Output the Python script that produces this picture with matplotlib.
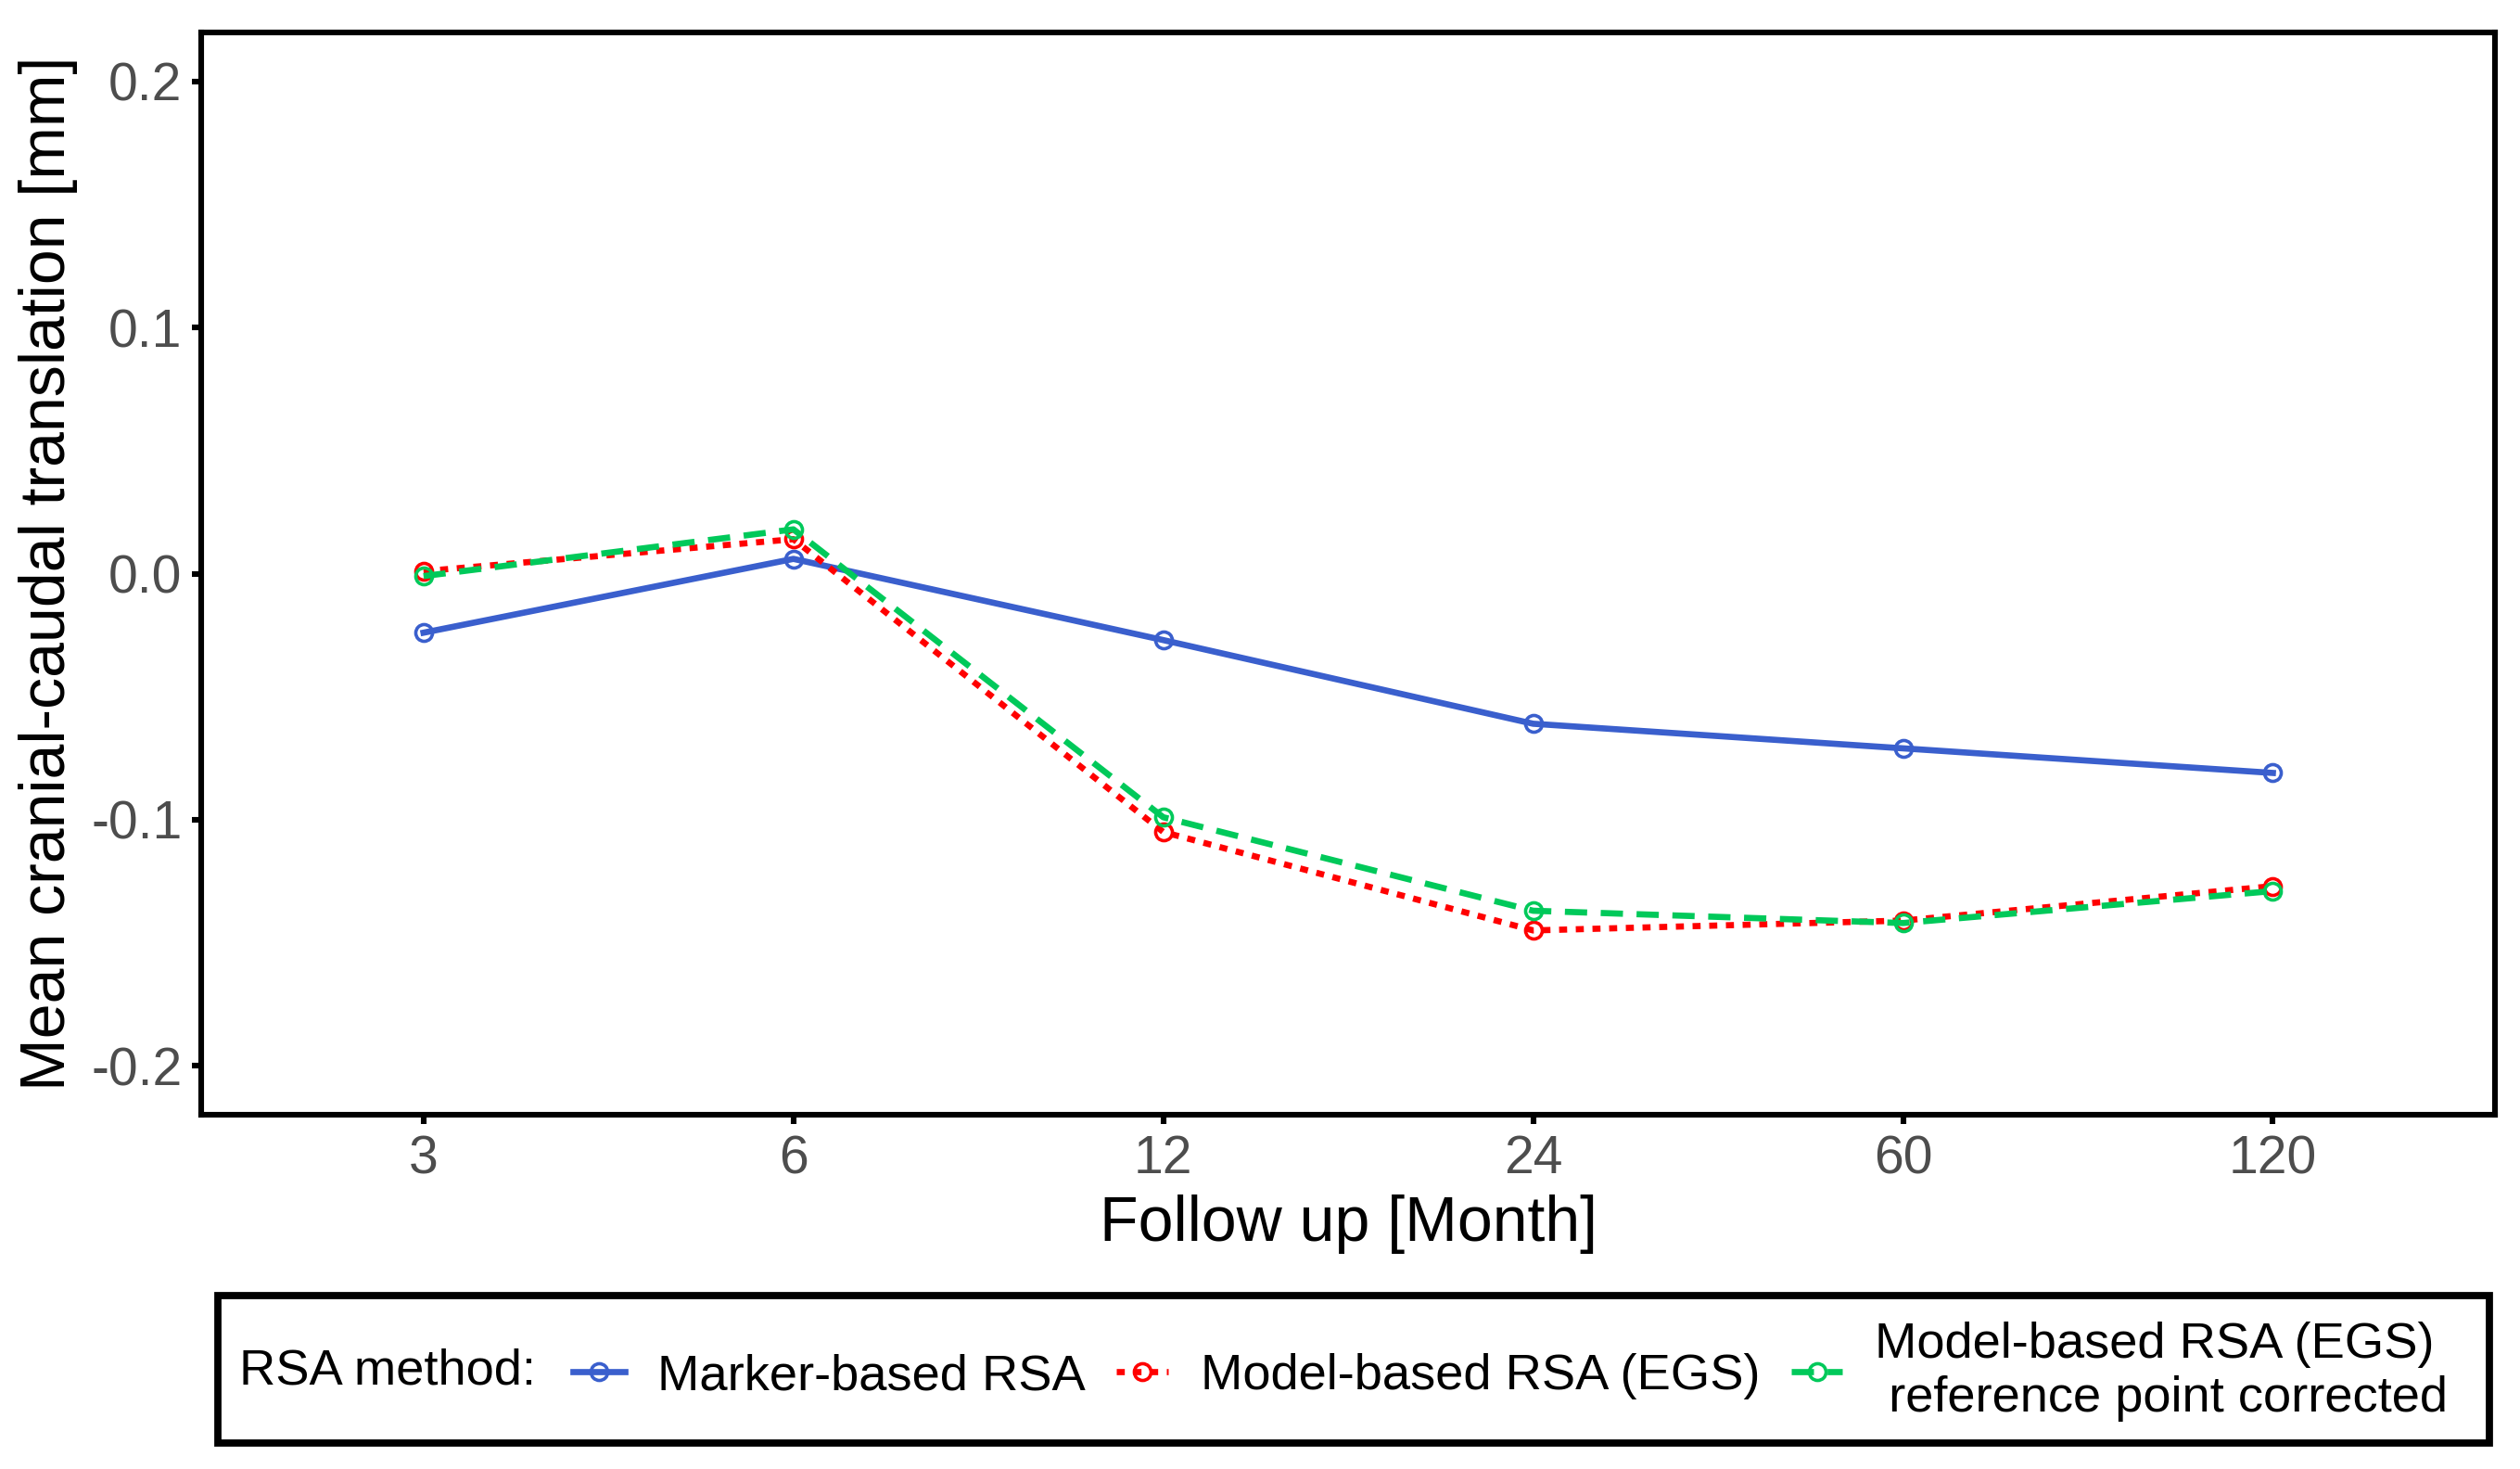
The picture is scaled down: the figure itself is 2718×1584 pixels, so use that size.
import matplotlib
matplotlib.use("Agg")
import matplotlib.pyplot as plt
from matplotlib.patches import Rectangle

plt.rcParams['font.family'] = ['Liberation Sans', 'DejaVu Sans']

followup = ["3", "6", "12", "24", "60", "120"]
marker_based = [-0.024, 0.006, -0.027, -0.061, -0.071, -0.081]
model_based = [0.001, 0.014, -0.105, -0.145, -0.141, -0.127]
model_corrected = [-0.001, 0.018, -0.099, -0.137, -0.142, -0.129]
y_ticks = [-0.2, -0.1, 0.0, 0.1, 0.2]
y_tick_labels = ["-0.2", "-0.1", "0.0", "0.1", "0.2"]
series_labels = ["Marker-based RSA", "Model-based RSA (EGS)",
                 "Model-based RSA (EGS)\n reference point corrected"]

fig = plt.figure(figsize=(13.59, 7.92), dpi=200)
ax = fig.add_axes([0.080, 0.241, 0.910, 0.737])

x = list(range(len(followup)))
lw = 2.4
ms = 6.5
mew = 1.3
h1, = ax.plot(x, marker_based, color="#3A5FCD", lw=lw, ls='-',
              marker='o', ms=ms, mfc='none', mec="#3A5FCD", mew=mew)
h2, = ax.plot(x, model_based, color="#FF0000", lw=lw, ls=(0, (1.3, 1.4)),
              marker='o', ms=ms, mfc='none', mec="#FF0000", mew=mew)
h3, = ax.plot(x, model_corrected, color="#00C95A", lw=lw, ls=(0, (3.6, 2.2)),
              marker='o', ms=ms, mfc='none', mec="#00C95A", mew=mew)

ax.set_xlim(-0.6, len(followup) - 1 + 0.6)
ax.set_ylim(-0.22, 0.22)
ax.set_xticks(x)
ax.set_xticklabels(followup)
ax.set_yticks(y_ticks)
ax.set_yticklabels(y_tick_labels)
for s in ax.spines.values():
    s.set_linewidth(2.2)
    s.set_color('black')
ax.tick_params(axis='both', length=3.5, width=2.2, color='black',
               labelsize=20.5, labelcolor='#4D4D4D', pad=4)
ax.set_xlabel("Follow up [Month]", fontsize=24.5, labelpad=4)
ax.set_ylabel("Mean cranial-caudal translation [mm]", fontsize=24.5, labelpad=5)

# Legend frame
fig.add_artist(Rectangle((0.0865, 0.0177), 0.9015, 0.1003, transform=fig.transFigure,
                         fill=False, lw=2.8, ec='black'))
fig.text(0.095, 0.0663, "RSA method:", fontsize=19.6, va='center', ha='left')
leg = fig.legend([h1, h2, h3], series_labels, ncol=3, frameon=False,
                 loc='center left', bbox_to_anchor=(0.2275, 0.0663),
                 fontsize=19.6, handlelength=1.02, handletextpad=0.64,
                 columnspacing=0.62, borderaxespad=0, borderpad=0)

fig.savefig("out.png", dpi=200)
